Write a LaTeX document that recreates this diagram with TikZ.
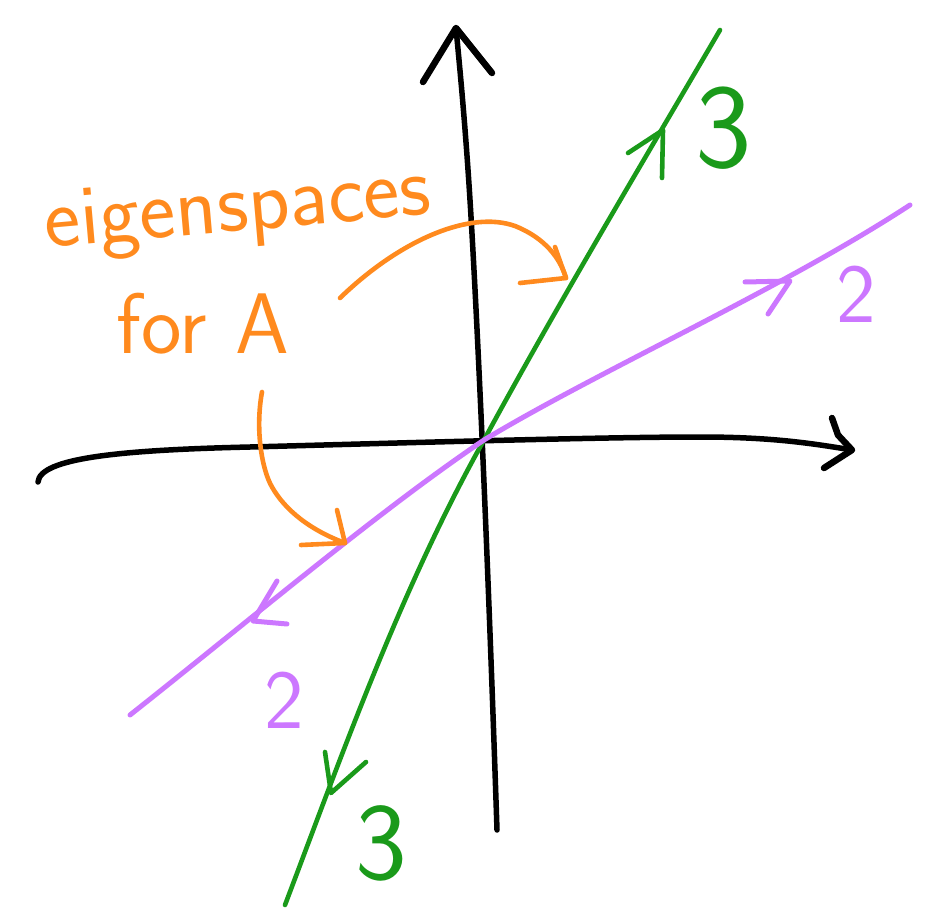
\documentclass[tikz,border=0pt]{standalone}
\definecolor{hOrange}{HTML}{FF8A1E}
\definecolor{hGreen}{HTML}{1A9A1A}
\definecolor{hPurple}{HTML}{CC77FF}
\begin{document}
\begin{tikzpicture}[x=1pt,y=-1pt,
  axisline/.style={line width=5.5pt,black,line cap=round,line join=round},
  greenline/.style={line width=4.6pt,hGreen,line cap=round,line join=round},
  purpleline/.style={line width=5pt,hPurple,line cap=round,line join=round},
  orangeline/.style={line width=4.6pt,hOrange,line cap=round,line join=round},
  orangetext/.style={text=hOrange,font=\sffamily\fontsize{86}{90}\selectfont,inner sep=0pt},
  numlabel/.style={font=\sffamily\fontsize{#1}{#1}\selectfont,inner sep=0pt}]
\useasboundingbox (0,0) rectangle (930,923);
% coordinates
\coordinate (O) at (484,440);
\coordinate (vbot) at (497,830);
\coordinate (vtop) at (456,28);
\coordinate (vb1) at (423,82);
\coordinate (vb2) at (492,73);
\coordinate (hleft) at (38,482);
\coordinate (hright) at (852,450);
\coordinate (hb1) at (832,418);
\coordinate (hb2) at (824,468);
\coordinate (gbot) at (285,905);
\coordinate (gtop) at (720,30);
\coordinate (gt1) at (663,130);
\coordinate (gt1a) at (628,153);
\coordinate (gt1b) at (662,178);
\coordinate (gt2) at (331,793);
\coordinate (gt2a) at (325,752);
\coordinate (gt2b) at (366,762);
\coordinate (pbot) at (130,715);
\coordinate (ptop) at (910,205);
\coordinate (pt1) at (790,281);
\coordinate (pt1a) at (745,282);
\coordinate (pt1b) at (768,314);
\coordinate (pt2) at (253,621);
\coordinate (pt2a) at (277,581);
\coordinate (pt2b) at (287,624);
\coordinate (oa1s) at (340,298);
\coordinate (oa1e) at (566,278);
\coordinate (oa1a) at (520,283);
\coordinate (oa1b) at (555,247);
\coordinate (oa2s) at (262,392);
\coordinate (oa2e) at (345,543);
\coordinate (oa2a) at (337,510);
\coordinate (oa2b) at (301,545);
% axes
\draw[axisline] (vbot) .. controls (488,560) and (478,330) .. (470,200) .. controls (465,120) and (459,60) .. (vtop);
\draw[axisline,line width=6.5pt] (vb1) -- (vtop) -- (vb2);
\draw[axisline] (hleft) .. controls (40,458) and (120,450) .. (250,447) .. controls (400,443) and (600,437) .. (700,437) .. controls (770,437) and (810,443) .. (hright);
\draw[axisline,line width=6.5pt] (hb1) -- (838,435) -- (hright) -- (hb2);
% green eigenspace
\draw[greenline] (gbot) .. controls (340,760) and (400,590) .. (O) .. controls (560,300) and (650,150) .. (gtop);
\draw[greenline] (gt1a) -- (gt1) -- (gt1b);
\draw[greenline] (gt2a) -- (gt2) -- (gt2b);
% purple eigenspace
\draw[purpleline] (pbot) .. controls (250,620) and (380,510) .. (O) .. controls (600,370) and (780,290) .. (ptop);
\draw[purpleline] (pt1a) -- (pt1) -- (pt1b);
\draw[purpleline] (pt2a) -- (pt2) -- (pt2b);
% labels
\node[numlabel=120,text=hGreen] (l3a) at (724,128) {3};
\node[numlabel=110,text=hGreen] (l3b) at (381,843) {3};
\node[numlabel=84,text=hPurple] (l2a) at (856,294) {2};
\node[numlabel=84,text=hPurple] (l2b) at (284,700) {2};
\node[orangetext,rotate=5] (t1) at (238,212) {eigenspaces};
\node[orangetext] (t2) at (203,324) {for\,\,A};
% orange arrows
\draw[orangeline] (oa1s) .. controls (400,240) and (470,210) .. (515,226) .. controls (545,238) and (560,258) .. (oa1e);
\draw[orangeline] (oa1a) -- (oa1e) -- (oa1b);
\draw[orangeline] (oa2s) .. controls (255,430) and (262,470) .. (272,487) .. controls (285,510) and (310,530) .. (oa2e);
\draw[orangeline] (oa2a) -- (oa2e) -- (oa2b);
\end{tikzpicture}
\end{document}
